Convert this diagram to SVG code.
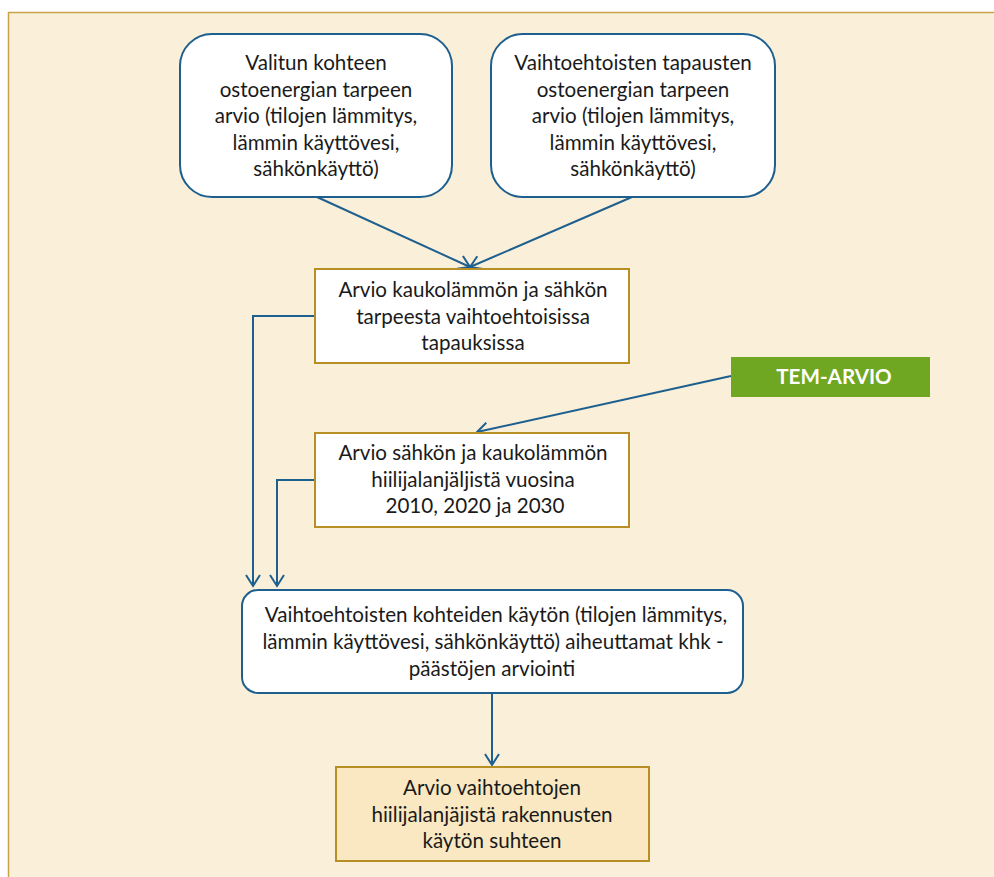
<svg xmlns="http://www.w3.org/2000/svg" width="994" height="877" viewBox="0 0 994 877">
<style>
.t{font-family:Lato,"Liberation Sans",sans-serif;font-size:20.6px;fill:#1a1a1a;text-anchor:middle}
.rb{fill:#fff;stroke:#1d5f8e;stroke-width:2}
.gb{fill:#fff;stroke:#b88f24;stroke-width:2}
.c{fill:none;stroke:#1d5f8e;stroke-width:2}
</style>
<defs>
<marker id="ah" markerUnits="userSpaceOnUse" markerWidth="20" markerHeight="20" refX="12" refY="8" orient="auto" viewBox="0 0 20 16">
<path d="M1,1 L12,8 L1,15" fill="none" stroke="#1d5f8e" stroke-width="2"/>
</marker>
</defs>
<rect x="0" y="0" width="994" height="877" fill="#fff"/>
<rect x="8.5" y="12.5" width="1000" height="900" fill="#faefd9" stroke="#c9a447" stroke-width="1.5"/>
<g id="connectors">
<path class="c" d="M317,197 L470,267" marker-end="url(#ah)"/>
<path class="c" d="M632,197 L470,267" marker-end="url(#ah)"/>
<path class="c" d="M731,376 L477,432" marker-end="url(#ah)"/>
<path class="c" d="M315,316 H253 V586" marker-end="url(#ah)"/>
<path class="c" d="M315,480 H277 V586" marker-end="url(#ah)"/>
<path class="c" d="M492,694 V765" marker-end="url(#ah)"/>
</g>
<g id="n1">
<rect class="rb" x="180" y="34" width="272" height="163" rx="32"/>
<text class="t"><tspan x="316" y="70">Valitun kohteen</tspan><tspan x="316" y="96.5">ostoenergian tarpeen</tspan><tspan x="316" y="123">arvio (tilojen lämmitys,</tspan><tspan x="316" y="149.5">lämmin käyttövesi,</tspan><tspan x="316" y="176">sähkönkäyttö)</tspan></text>
</g>
<g id="n2">
<rect class="rb" x="491" y="34" width="284" height="163" rx="32"/>
<text class="t"><tspan x="633" y="70">Vaihtoehtoisten tapausten</tspan><tspan x="633" y="96.5">ostoenergian tarpeen</tspan><tspan x="633" y="123">arvio (tilojen lämmitys,</tspan><tspan x="633" y="149.5">lämmin käyttövesi,</tspan><tspan x="633" y="176">sähkönkäyttö)</tspan></text>
</g>
<g id="n3">
<rect class="gb" x="315" y="269" width="314" height="94"/>
<text class="t"><tspan x="473" y="297">Arvio kaukolämmön ja sähkön</tspan><tspan x="473" y="323.5">tarpeesta vaihtoehtoisissa</tspan><tspan x="473" y="350">tapauksissa</tspan></text>
</g>
<g id="n4">
<rect x="731" y="357" width="199" height="40" fill="#6fa722"/>
<text x="834" y="384" style="font-family:Lato,'Liberation Sans',sans-serif;font-size:20.6px;font-weight:bold;fill:#fff;text-anchor:middle">TEM-ARVIO</text>
</g>
<g id="n5">
<rect class="gb" x="315" y="433" width="314" height="94"/>
<text class="t"><tspan x="473" y="460">Arvio sähkön ja kaukolämmön</tspan><tspan x="473" y="486.5">hiilijalanjäljistä vuosina</tspan><tspan x="475" y="513">2010, 2020 ja 2030</tspan></text>
</g>
<g id="n6">
<rect class="rb" x="242" y="590" width="501" height="103" rx="16"/>
<text class="t"><tspan x="496" y="622">Vaihtoehtoisten kohteiden käytön (tilojen lämmitys,</tspan><tspan x="493" y="649">lämmin käyttövesi, sähkönkäyttö) aiheuttamat khk -</tspan><tspan x="492" y="676">päästöjen arviointi</tspan></text>
</g>
<g id="n7">
<rect x="336" y="767" width="313" height="94" fill="#f9e8c2" stroke="#b88f24" stroke-width="2"/>
<text class="t"><tspan x="492" y="795">Arvio vaihtoehtojen</tspan><tspan x="492" y="821.5">hiilijalanjäjistä rakennusten</tspan><tspan x="492" y="848">käytön suhteen</tspan></text>
</g>
</svg>
